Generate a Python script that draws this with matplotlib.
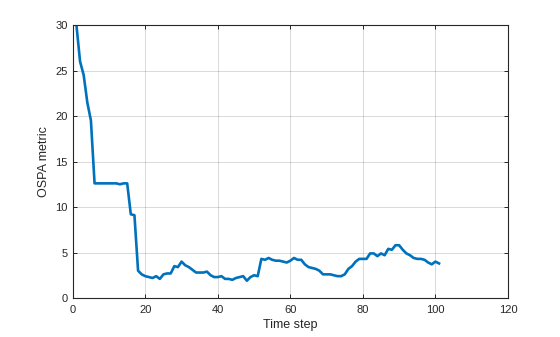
import numpy as np
import matplotlib
matplotlib.use('Agg')
import matplotlib.pyplot as plt

plt.rcParams['font.family'] = ['Liberation Sans', 'DejaVu Sans']

# OSPA metric per time step
time_step = list(range(1, 102))
ospa = [30.0, 26.0, 24.5, 21.5, 19.5, 12.6, 12.6, 12.6, 12.6, 12.6,
        12.6, 12.6, 12.5, 12.6, 12.6, 9.2, 9.1, 3.0, 2.6, 2.4,
        2.3, 2.2, 2.4, 2.1, 2.6, 2.7, 2.7, 3.5, 3.4, 4.0,
        3.6, 3.4, 3.1, 2.8, 2.8, 2.8, 2.9, 2.5, 2.3, 2.3,
        2.4, 2.1, 2.1, 2.0, 2.2, 2.3, 2.4, 1.9, 2.3, 2.5,
        2.4, 4.3, 4.2, 4.4, 4.2, 4.1, 4.1, 4.0, 3.9, 4.1,
        4.4, 4.2, 4.2, 3.7, 3.4, 3.3, 3.2, 3.0, 2.6, 2.6,
        2.6, 2.5, 2.4, 2.4, 2.6, 3.2, 3.5, 4.0, 4.3, 4.3,
        4.3, 4.9, 4.9, 4.6, 4.9, 4.7, 5.4, 5.3, 5.8, 5.8,
        5.3, 4.9, 4.7, 4.4, 4.3, 4.3, 4.2, 3.9, 3.7, 4.0, 3.8]

fig = plt.figure(figsize=(5.6, 3.37), dpi=100)
ax = fig.add_axes([0.130, 0.1157, 0.777, 0.810])

ax.plot(time_step, ospa, color='#0072BD', linewidth=1.9)

ax.set_xlim(0, 120)
ax.set_ylim(0, 30)
ax.set_xticks(np.arange(0, 121, 20))
ax.set_yticks(np.arange(0, 31, 5))
ax.grid(True, color='#000000', alpha=0.15, linewidth=0.7)
ax.set_axisbelow(True)

ax.tick_params(direction='in', top=True, right=True, length=3, width=0.7,
               colors='#262626', labelsize=8)
ax.tick_params(axis='x', pad=5)
for s in ax.spines.values():
    s.set_color('#262626')
    s.set_linewidth(0.8)

ax.set_xlabel('Time step', fontsize=9, color='#262626', labelpad=3)
ax.set_ylabel('OSPA metric', fontsize=9, color='#262626', labelpad=4)

fig.savefig('out.png', dpi=100)
